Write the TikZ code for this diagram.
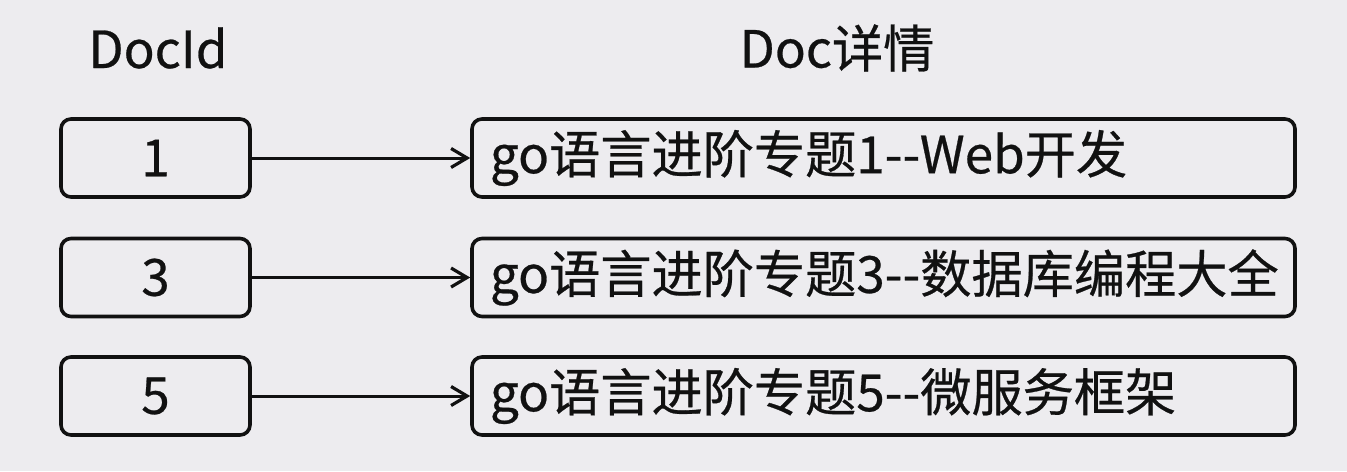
\documentclass[tikz,border=0pt]{standalone}
\usepackage{fontspec}
\setmainfont{Noto Sans CJK SC}[FakeBold=0.5]
\usetikzlibrary{arrows.meta}
\definecolor{bgc}{HTML}{EDECEF}
\definecolor{ink}{HTML}{111111}
\begin{document}
\begin{tikzpicture}[x=0.5pt,y=-0.5pt,
  txt/.style={font=\fontsize{25.6}{30}\selectfont, text=ink},
  idbox/.style={draw=ink, line width=1.8pt, rounded corners=5pt, minimum width=94.5pt, minimum height=39pt, inner sep=0pt, txt},
  docbox/.style={draw=ink, line width=1.8pt, rounded corners=5pt, inner xsep=9pt, inner ysep=0pt, minimum height=39pt, txt},
  link/.style={draw=ink, line width=1.5pt, -{Straight Barb[length=8pt,width=9.5pt,line width=1.6pt]}}]
\fill[bgc] (0,0) rectangle (1347,471);
\useasboundingbox (0,0) rectangle (1347,471);
\node[txt] (h1) at (158,48) {DocId};
\node[txt] (h2) at (837,48) {Doc详情};
\node[idbox] (i1) at (155.5,158) {1};
\node[idbox] (i3) at (155.5,277.5) {3};
\node[idbox] (i5) at (155.5,396) {5};
\node[docbox] (d1) at (883.5,158) {\makebox[393.5pt][l]{go语言进阶专题1-{}-Web开发}};
\node[docbox] (d3) at (883.5,277.5) {\makebox[393.5pt][l]{go语言进阶专题3-{}-数据库编程大全}};
\node[docbox] (d5) at (883.5,396) {\makebox[393.5pt][l]{go语言进阶专题5-{}-微服务框架}};
\draw[link] (i1) -- (d1);
\draw[link] (i3) -- (d3);
\draw[link] (i5) -- (d5);
\end{tikzpicture}
\end{document}
